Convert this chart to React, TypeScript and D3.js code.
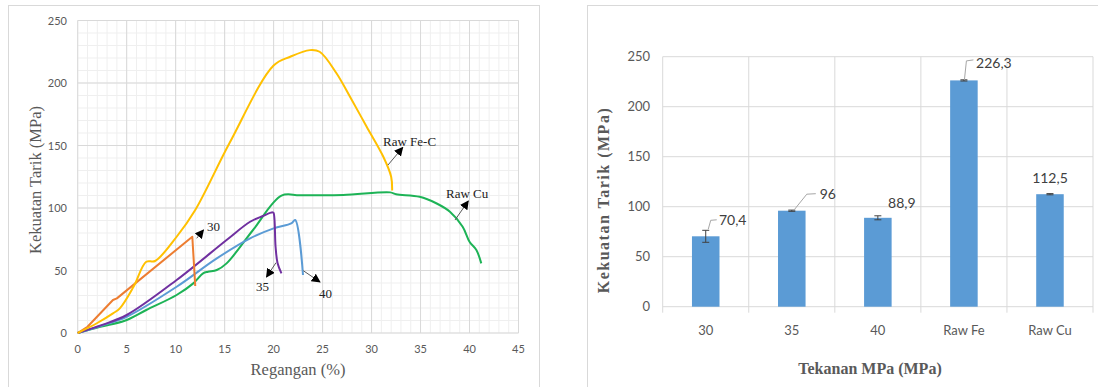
import React from "react";
import * as d3 from "d3";

// ---------- Left chart data (strain % vs tensile strength MPa) ----------
const feC_x = [0, 2, 3.6, 4.3, 5.7, 7.0, 7.9, 10.1, 12, 15.5, 20, 21.7, 23.7, 24.7, 26.4, 27.8, 29.5, 31.2, 32, 32.1];
const feC_y = [0, 8, 15.7, 19.7, 37, 57, 57.6, 77, 98.4, 152, 214, 221, 226.3, 225, 208, 189, 165, 141, 125, 114];

const cu_x = [0, 2.3, 4.8, 7, 10.1, 11.8, 12.8, 13.3, 14.2, 15.2, 17.9, 20.8, 22.7, 27.1, 31.9, 32.5, 34.9, 36.6, 38, 39.3, 40, 40.7, 41.2];
const cu_y = [0, 5, 9.8, 18.4, 30.4, 39.7, 47.7, 49, 50.4, 55.7, 82.4, 109.9, 110.2, 110.4, 112.5, 111, 109, 103.8, 97, 85, 73, 66.4, 55.7];

const s30_x = [0, 1, 3.6, 4, 11.7, 12];
const s30_y = [0, 5, 26.4, 27.7, 77, 37.6];

const s35_x = [0, 2.5, 5, 10.1, 15.2, 17.6, 18.9, 19.9, 20.0, 20.2, 20.4, 20.8];
const s35_y = [0, 6.5, 14.4, 42.4, 74.4, 89, 93.6, 96.5, 96, 69, 56, 47.7];

const s40_x = [0, 2.5, 5, 10.1, 14.2, 17.6, 20, 21.8, 22.2, 23];
const s40_y = [0, 6, 13, 37, 59.7, 75.7, 83.7, 87.7, 90.4, 46.4];

const xTicksLeft = [0, 5, 10, 15, 20, 25, 30, 35, 40, 45];
const yTicksLeft = [0, 50, 100, 150, 200, 250];

// ---------- Right chart data ----------
const categories = ["30", "35", "40", "Raw Fe", "Raw Cu"];
const strengths = [70.4, 96, 88.9, 226.3, 112.5];
const errors = [6, 0.6, 2, 0.6, 0.6];
const valueLabels = ["70,4", "96", "88,9", "226,3", "112,5"];
const yTicksRight = [0, 50, 100, 150, 200, 250];

const TICK = "#595959";
const SANS = "Lato, 'Open Sans', sans-serif";
const SERIF = "'Liberation Serif', 'DejaVu Serif', serif";

function zip(xs: number[], ys: number[]): [number, number][] {
  return xs.map((x, i) => [x, ys[i]]);
}

export default function App() {
  // Left chart scales
  const lx = d3.scaleLinear().domain([0, 45]).range([77.7, 518.5]);
  const ly = d3.scaleLinear().domain([0, 250]).range([333, 20.5]);
  const smooth = d3
    .line<[number, number]>()
    .x((d) => lx(d[0]))
    .y((d) => ly(d[1]))
    .curve(d3.curveCatmullRom.alpha(0.5));
  const straight = d3
    .line<[number, number]>()
    .x((d) => lx(d[0]))
    .y((d) => ly(d[1]));

  const minorX = d3.range(0, 46, 1);
  const minorY = d3.range(0, 251, 10);

  const series = [
    { d: smooth(zip(cu_x, cu_y)), c: "#1DB356" },
    { d: smooth(zip(s40_x, s40_y)), c: "#5B9BD5" },
    { d: smooth(zip(s35_x, s35_y)), c: "#7030A0" },
    { d: straight(zip(s30_x, s30_y)), c: "#ED7D31" },
    { d: smooth(zip(feC_x, feC_y)), c: "#FFC000" },
  ];

  // Right chart scales
  const bx = d3.scaleBand<string>().domain(categories).range([662.7, 1093]).padding(0);
  const by = d3.scaleLinear().domain([0, 250]).range([306.7, 56.7]);
  const bw = bx.bandwidth() * 0.32;

  const labelOff = [
    { dx: 27, dy: -16 },
    { dx: 36, dy: -17 },
    { dx: 24, dy: -15 },
    { dx: 30, dy: -17 },
    { dx: 0, dy: -16.5 },
  ];
  const leaders: ([number, number][] | null)[] = [
    [[2.5, -7], [5, -16], [11, -16.5]],
    [[2.5, -1], [15, -16.5], [24, -17]],
    null,
    [[0.5, -0.5], [2.5, -19.5], [9.5, -20.5]],
    null,
  ];

  const arrows = [
    { x1: 388, y1: 165, x2: 402.7, y2: 147.5 },
    { x1: 455, y1: 220, x2: 468.3, y2: 201 },
    { x1: 196.7, y1: 238.3, x2: 203.5, y2: 230 },
    { x1: 276, y1: 262.7, x2: 266.5, y2: 277 },
    { x1: 303.3, y1: 270.7, x2: 320, y2: 282 },
  ];

  return (
    <svg
      width={1098}
      height={387}
      style={{ position: "absolute", left: 0, top: 0, background: "#fff" }}
    >
      <defs>
        <marker id="ah" viewBox="0 0 10 10" refX="9" refY="5" markerWidth="9" markerHeight="9" orient="auto" markerUnits="userSpaceOnUse">
          <path d="M0,0 L10,5 L0,10 z" fill="#000" />
        </marker>
      </defs>

      {/* ===== Left chart ===== */}
      <rect x={8.5} y={5.5} width={531} height={400} fill="#fff" stroke="#d9d9d9" />
      {minorX.map((v) => (
        <line key={"mx" + v} x1={lx(v)} x2={lx(v)} y1={ly(0)} y2={ly(250)} stroke="#efefef" strokeWidth={1} />
      ))}
      {minorY.map((v) => (
        <line key={"my" + v} x1={lx(0)} x2={lx(45)} y1={ly(v)} y2={ly(v)} stroke="#efefef" strokeWidth={1} />
      ))}
      {xTicksLeft.map((v) => (
        <line key={"Mx" + v} x1={lx(v)} x2={lx(v)} y1={ly(0)} y2={ly(250)} stroke="#d9d9d9" strokeWidth={1} />
      ))}
      {yTicksLeft.map((v) => (
        <line key={"My" + v} x1={lx(0)} x2={lx(45)} y1={ly(v)} y2={ly(v)} stroke="#d9d9d9" strokeWidth={1} />
      ))}
      {xTicksLeft.map((v) => (
        <text key={"tx" + v} x={lx(v)} y={353} textAnchor="middle" fontSize={11} fill={TICK} fontFamily={SANS}>
          {v}
        </text>
      ))}
      {yTicksLeft.map((v) => (
        <text key={"ty" + v} x={67} y={ly(v) + 4} textAnchor="end" fontSize={11} fill={TICK} fontFamily={SANS}>
          {v}
        </text>
      ))}
      <text x={298} y={375} textAnchor="middle" fontSize={16.5} fill={TICK} fontFamily={SERIF}>
        Regangan (%)
      </text>
      <text
        transform="translate(41,180) rotate(-90)"
        textAnchor="middle"
        fontSize={16.5}
        fill={TICK}
        fontFamily={SERIF}
      >
        Kekuatan Tarik (MPa)
      </text>

      {series.map((s, i) => (
        <path key={"s" + i} d={s.d || ""} fill="none" stroke={s.c} strokeWidth={2} strokeLinejoin="round" />
      ))}

      {arrows.map((a, i) => (
        <line key={"ar" + i} x1={a.x1} y1={a.y1} x2={a.x2} y2={a.y2} stroke="#595959" strokeWidth={1} markerEnd="url(#ah)" />
      ))}
      <text x={383} y={146} fontSize={13} fill="#222" fontFamily={SERIF}>Raw Fe-C</text>
      <text x={446} y={198} fontSize={13} fill="#222" fontFamily={SERIF}>Raw Cu</text>
      <text x={207} y={231} fontSize={13} fill="#222" fontFamily={SERIF}>30</text>
      <text x={256} y={291} fontSize={13} fill="#222" fontFamily={SERIF}>35</text>
      <text x={319} y={298} fontSize={13} fill="#222" fontFamily={SERIF}>40</text>

      {/* ===== Right chart ===== */}
      <rect x={587.5} y={5.5} width={520} height={400} fill="#fff" stroke="#d9d9d9" />
      {yTicksRight.map((v) => (
        <line key={"gy" + v} x1={662.7} x2={1093} y1={by(v)} y2={by(v)} stroke="#d9d9d9" strokeWidth={1} />
      ))}
      {categories.concat(["__end"]).map((c, i) => {
        const x = i < categories.length ? (bx(c) as number) : 1093;
        return <line key={"gx" + i} x1={x} x2={x} y1={by(250)} y2={312.7} stroke="#d9d9d9" strokeWidth={1} />;
      })}
      {yTicksRight.map((v) => (
        <text key={"ry" + v} x={650} y={by(v) + 4.5} textAnchor="end" fontSize={13} fill={TICK} fontFamily={SANS}>
          {v}
        </text>
      ))}
      {categories.map((c) => (
        <text key={"rc" + c} x={(bx(c) as number) + bx.bandwidth() / 2} y={334.5} textAnchor="middle" fontSize={13} fill={TICK} fontFamily={SANS}>
          {c}
        </text>
      ))}
      {categories.map((c, i) => {
        const cx = (bx(c) as number) + bx.bandwidth() / 2;
        return (
          <g key={"bar" + c}>
            <rect x={cx - bw / 2} y={by(strengths[i])} width={bw} height={by(0) - by(strengths[i])} fill="#5B9BD5" />
            <line x1={cx} x2={cx} y1={by(strengths[i] + errors[i])} y2={by(strengths[i] - errors[i])} stroke="#404040" strokeWidth={1} />
            <line x1={cx - 3.5} x2={cx + 3.5} y1={by(strengths[i] + errors[i])} y2={by(strengths[i] + errors[i])} stroke="#404040" strokeWidth={1} />
            <line x1={cx - 3.5} x2={cx + 3.5} y1={by(strengths[i] - errors[i])} y2={by(strengths[i] - errors[i])} stroke="#404040" strokeWidth={1} />
            {leaders[i] && (
              <polyline
                points={leaders[i]!.map((p) => `${cx + p[0]},${by(strengths[i]) + p[1]}`).join(" ")}
                fill="none"
                stroke="#a6a6a6"
                strokeWidth={1}
              />
            )}
            <text
              x={cx + labelOff[i].dx}
              y={by(strengths[i]) + labelOff[i].dy + 5}
              textAnchor="middle"
              fontSize={14}
              fill="#404040"
              fontFamily={SANS}
            >
              {valueLabels[i]}
            </text>
          </g>
        );
      })}
      <text x={870} y={374} textAnchor="middle" fontSize={16} fontWeight="bold" fill={TICK} fontFamily={SERIF}>
        Tekanan MPa (MPa)
      </text>
      <text
        transform="translate(609,200) rotate(-90)"
        textAnchor="middle"
        fontSize={16}
        fontWeight="bold"
        fill={TICK}
        fontFamily={SERIF}
        letterSpacing={1.5}
      >
        Kekuatan Tarik  (MPa)
      </text>
    </svg>
  );
}
